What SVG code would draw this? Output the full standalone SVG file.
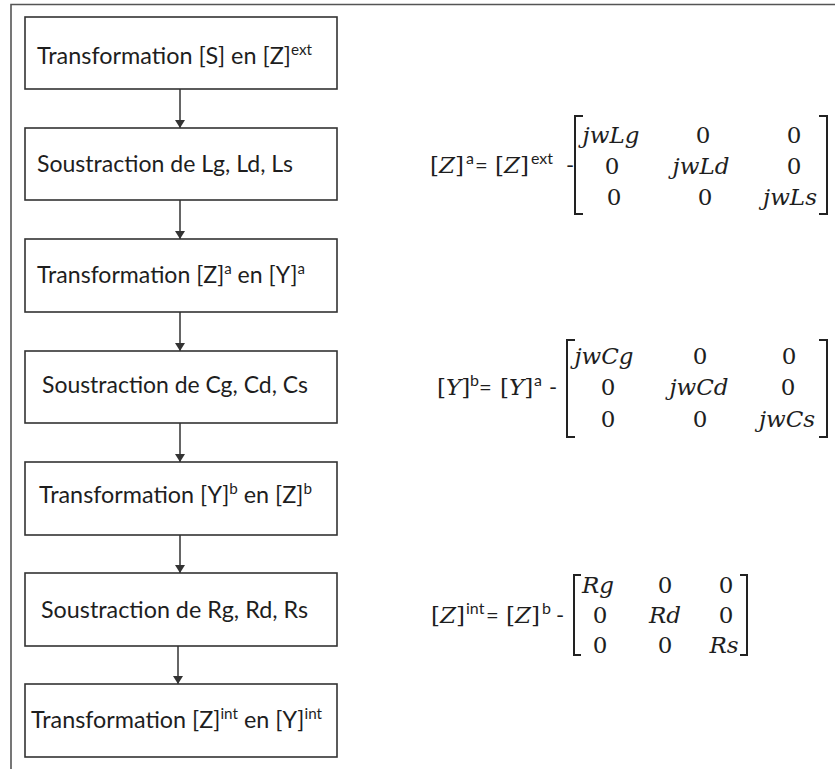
<svg xmlns="http://www.w3.org/2000/svg" width="835" height="769" viewBox="0 0 835 769">
<style>
.frame{fill:none;stroke:#555;stroke-width:1.6}
.box{fill:#fff;stroke:#333;stroke-width:1.6}
.t{font-family:Lato,"Liberation Sans",sans-serif;font-size:23px;fill:#1e1e1e}
.sup{font-size:15px}
.m{font-family:"DejaVu Serif","Liberation Serif",serif;font-size:23px;fill:#1e1e1e}
.i{font-style:italic}
.s{font-family:Lato,"Liberation Sans",sans-serif;font-size:16px;fill:#1e1e1e}
.eq{font-family:Lato,"Liberation Sans",sans-serif;font-size:22px;fill:#1e1e1e}
.br{fill:none;stroke:#222;stroke-width:2}
.conn{stroke:#333;stroke-width:1.5;fill:none}
</style>
<defs>
<marker id="ah" markerWidth="8" markerHeight="10" refX="8" refY="5" orient="auto" markerUnits="userSpaceOnUse">
<path d="M0,0 L8,5 L0,10 Z" fill="#333"/>
</marker>
</defs>
<path class="frame" d="M11,769 V4.5 H835"/>
<g id="connectors">
<line class="conn" x1="180" y1="89" x2="180" y2="128" marker-end="url(#ah)"/>
<line class="conn" x1="180" y1="200" x2="180" y2="239" marker-end="url(#ah)"/>
<line class="conn" x1="180" y1="312" x2="180" y2="351" marker-end="url(#ah)"/>
<line class="conn" x1="180" y1="423" x2="180" y2="462" marker-end="url(#ah)"/>
<line class="conn" x1="180" y1="535" x2="180" y2="573" marker-end="url(#ah)"/>
<line class="conn" x1="178" y1="646" x2="178" y2="684" marker-end="url(#ah)"/>
</g>
<g id="n1">
<rect class="box" x="25" y="17" width="312" height="72"/>
<text class="t" x="37" y="64" textLength="275" lengthAdjust="spacingAndGlyphs">Transformation [S] en [Z]<tspan class="sup" dy="-9">ext</tspan></text>
</g>
<g id="n2">
<rect class="box" x="25" y="128" width="312" height="72"/>
<text class="t" x="37" y="172" textLength="256" lengthAdjust="spacingAndGlyphs">Soustraction de Lg, Ld, Ls</text>
</g>
<g id="n3">
<rect class="box" x="25" y="239" width="312" height="73"/>
<text class="t" x="37" y="283" textLength="268" lengthAdjust="spacingAndGlyphs">Transformation [Z]<tspan class="sup" dy="-9">a</tspan><tspan dy="9"> en [Y]</tspan><tspan class="sup" dy="-9">a</tspan></text>
</g>
<g id="n4">
<rect class="box" x="25" y="351" width="312" height="72"/>
<text class="t" x="42" y="393" textLength="266" lengthAdjust="spacingAndGlyphs">Soustraction de Cg, Cd, Cs</text>
</g>
<g id="n5">
<rect class="box" x="25" y="462" width="312" height="73"/>
<text class="t" x="39" y="503" textLength="273" lengthAdjust="spacingAndGlyphs">Transformation [Y]<tspan class="sup" dy="-9">b</tspan><tspan dy="9"> en [Z]</tspan><tspan class="sup" dy="-9">b</tspan></text>
</g>
<g id="n6">
<rect class="box" x="25" y="573" width="312" height="73"/>
<text class="t" x="41" y="618" textLength="267" lengthAdjust="spacingAndGlyphs">Soustraction de Rg, Rd, Rs</text>
</g>
<g id="n7">
<rect class="box" x="25" y="684" width="312" height="73"/>
<text class="t" x="31" y="728" textLength="291" lengthAdjust="spacingAndGlyphs">Transformation [Z]<tspan class="sup" dy="-9">int</tspan><tspan dy="9"> en [Y]</tspan><tspan class="sup" dy="-9">int</tspan></text>
</g>
<g id="eq1">
<text class="m" x="430" y="173">[<tspan class="i">Z</tspan>]</text>
<text class="s" x="466" y="164">a</text>
<text class="eq" x="475" y="173">=</text>
<text class="m" x="495" y="173">[<tspan class="i">Z</tspan>]</text>
<text class="s" x="531" y="164">ext</text>
<text class="eq" x="566" y="173">-</text>
<path class="br" d="M583,116 H575 V214 H583"/>
<path class="br" d="M819,116 H827 V214 H819"/>
<text class="m i" x="611" y="143" text-anchor="middle">jwLg</text>
<text class="m" x="703" y="143" text-anchor="middle">0</text>
<text class="m" x="794" y="143" text-anchor="middle">0</text>
<text class="m" x="612" y="174" text-anchor="middle">0</text>
<text class="m i" x="701" y="174" text-anchor="middle">jwLd</text>
<text class="m" x="794" y="174" text-anchor="middle">0</text>
<text class="m" x="614" y="205" text-anchor="middle">0</text>
<text class="m" x="705" y="205" text-anchor="middle">0</text>
<text class="m i" x="790" y="205" text-anchor="middle">jwLs</text>
</g>
<g id="eq2">
<text class="m" x="437" y="395">[<tspan class="i">Y</tspan>]</text>
<text class="s" x="470" y="386">b</text>
<text class="eq" x="479" y="395">=</text>
<text class="m" x="500" y="395">[<tspan class="i">Y</tspan>]</text>
<text class="s" x="534" y="386">a</text>
<text class="eq" x="549" y="395">-</text>
<path class="br" d="M575,340 H567 V437 H575"/>
<path class="br" d="M819,340 H827 V437 H819"/>
<text class="m i" x="604" y="364" text-anchor="middle">jwCg</text>
<text class="m" x="700" y="364" text-anchor="middle">0</text>
<text class="m" x="789" y="364" text-anchor="middle">0</text>
<text class="m" x="608" y="395" text-anchor="middle">0</text>
<text class="m i" x="699" y="395" text-anchor="middle">jwCd</text>
<text class="m" x="788" y="395" text-anchor="middle">0</text>
<text class="m" x="608" y="427" text-anchor="middle">0</text>
<text class="m" x="700" y="427" text-anchor="middle">0</text>
<text class="m i" x="787" y="427" text-anchor="middle">jwCs</text>
</g>
<g id="eq3">
<text class="m" x="431" y="623">[<tspan class="i">Z</tspan>]</text>
<text class="s" x="466" y="614">int</text>
<text class="eq" x="486" y="623">=</text>
<text class="m" x="506" y="623">[<tspan class="i">Z</tspan>]</text>
<text class="s" x="542" y="614">b</text>
<text class="eq" x="556" y="623">-</text>
<path class="br" d="M581,575 H574 V655 H581"/>
<path class="br" d="M740,575 H747 V655 H740"/>
<text class="m i" x="598" y="593" text-anchor="middle">Rg</text>
<text class="m" x="665" y="593" text-anchor="middle">0</text>
<text class="m" x="726" y="593" text-anchor="middle">0</text>
<text class="m" x="600" y="623" text-anchor="middle">0</text>
<text class="m i" x="665" y="623" text-anchor="middle">Rd</text>
<text class="m" x="726" y="623" text-anchor="middle">0</text>
<text class="m" x="600" y="653" text-anchor="middle">0</text>
<text class="m" x="665" y="653" text-anchor="middle">0</text>
<text class="m i" x="724" y="653" text-anchor="middle">Rs</text>
</g>
</svg>
